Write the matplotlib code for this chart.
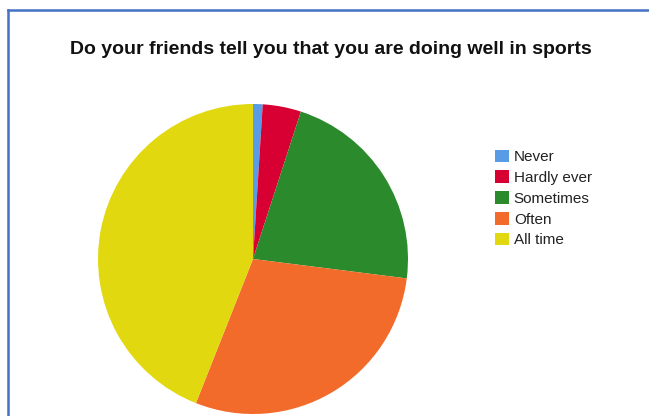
import matplotlib.pyplot as plt
from matplotlib.lines import Line2D
from matplotlib.patches import Patch

plt.rcParams['font.family'] = ['Liberation Sans', 'DejaVu Sans']

labels = ["Never", "Hardly ever", "Sometimes", "Often", "All time"]
shares = [1, 4, 22, 29, 44]
colors = ["#5a9be6", "#d80032", "#2b8a2b", "#f26b2a", "#e1d80f"]

W, H = 649, 416
fig = plt.figure(figsize=(W / 100, H / 100), dpi=100)

# blue frame around the chart (runs off the right and bottom edges)
fig.add_artist(Line2D([8 / W, 8 / W], [0, (H - 10) / H], color="#4472c4", lw=1.8))
fig.add_artist(Line2D([8 / W, 1], [(H - 10) / H, (H - 10) / H], color="#4472c4", lw=1.8))

fig.text(331 / W, 1 - 50 / H, "Do your friends tell you that you are doing well in sports",
         ha="center", va="center", fontsize=14, fontweight="bold", color="#111111")

ax = fig.add_axes([98 / W, 2 / H, 310 / W, 310 / H])
ax.pie(shares, colors=colors, startangle=90, counterclock=False, radius=1,
       wedgeprops=dict(linewidth=0))
ax.set_xlim(-1, 1)
ax.set_ylim(-1, 1)
ax.set_aspect("equal")
ax.axis("off")

handles = [Patch(facecolor=c, edgecolor="none") for c in colors]
fig.legend(handles, labels, loc="upper left", bbox_to_anchor=(481 / W, 1 - 136 / H),
           frameon=False, fontsize=11, handlelength=0.9, handleheight=0.9,
           handletextpad=0.35, labelspacing=0.4, labelcolor="#222222")

fig.savefig("out.png", dpi=100)
